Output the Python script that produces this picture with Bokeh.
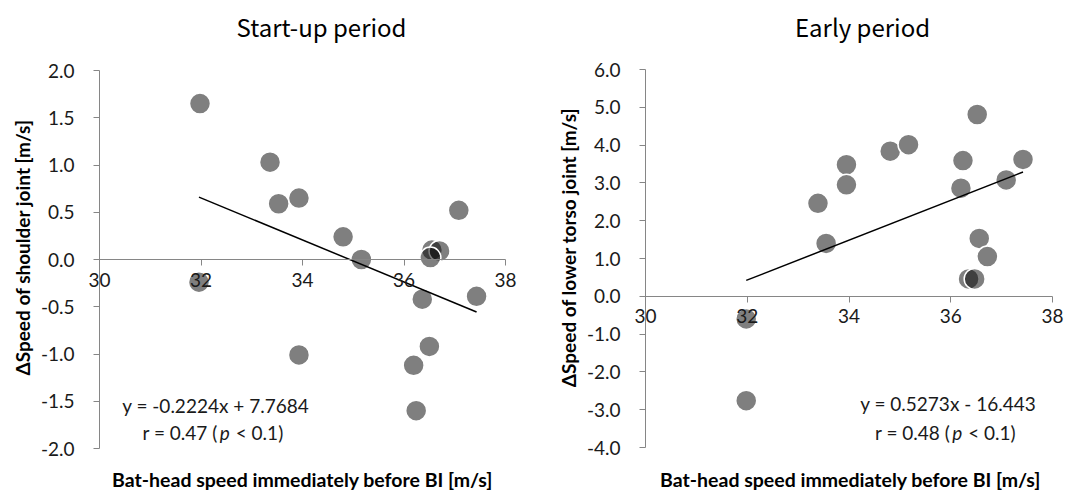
from bokeh.plotting import figure
from bokeh.layouts import row
from bokeh.models import Label, FixedTicker, NumeralTickFormatter, LinearAxis
from bokeh.embed import file_html
from bokeh.resources import INLINE

# Bat-head speed immediately before ball impact [m/s] vs. change of joint speed [m/s]
bat_speed_startup = [31.98, 33.36, 33.53, 33.93, 34.80, 35.16, 37.08, 36.55, 36.70,
                     36.52, 31.96, 36.36, 37.43, 36.50, 33.93, 36.19, 36.24]
d_shoulder_speed = [1.65, 1.03, 0.59, 0.65, 0.24, 0.00, 0.52, 0.10, 0.09,
                    0.02, -0.24, -0.42, -0.39, -0.92, -1.01, -1.12, -1.60]

bat_speed_early = [33.39, 33.55, 33.95, 33.95, 34.81, 35.17, 36.52, 36.24, 36.20,
                   37.42, 37.09, 36.56, 36.72, 36.35, 36.47, 31.98, 31.98]
d_lower_torso_speed = [2.46, 1.40, 3.48, 2.95, 3.84, 4.01, 4.81, 3.59, 2.86,
                       3.62, 3.08, 1.53, 1.05, 0.46, 0.46, -0.60, -2.76]

# Regression results printed on each panel
fit_startup = {"slope": -0.2224, "intercept": 7.7684, "r": 0.47}
fit_early = {"slope": 0.5273, "intercept": -16.443, "r": 0.48}

x_ticks = [30, 32, 34, 36, 38]
y_ticks_startup = [-2.0, -1.5, -1.0, -0.5, 0.0, 0.5, 1.0, 1.5, 2.0]
y_ticks_early = [-4.0, -3.0, -2.0, -1.0, 0.0, 1.0, 2.0, 3.0, 4.0, 5.0, 6.0]

TICK_FONT = "Lato"
TITLE_FONT = "Noto Sans CJK JP"
AXIS_GRAY = "#868686"
TEXT_COLOR = "#1a1a1a"
X_TITLE = "Bat-head speed immediately before BI [m/s]"
HEIGHT = 492


def equation_text(fit):
    icpt = fit["intercept"]
    sign = "+" if icpt >= 0 else "-"
    return f"y = {fit['slope']:g}x {sign} {abs(icpt):g}"


def panel(title, ylabel, xs, ys, fit, y_ticks, width, x_px, y_px, title_px, xtitle_px, eq_pos):
    # x_px: pixel columns of 30 and 38; y_px: pixel rows of the top and bottom y ticks
    ylo, yhi = y_ticks[0], y_ticks[-1]
    frame_l, frame_r = x_px[0] - 59, x_px[1] + 15
    frame_t, frame_b = 4, HEIGHT - 2

    ux = (38 - 30) / (x_px[1] - x_px[0])      # data units per pixel
    uy = (yhi - ylo) / (y_px[1] - y_px[0])

    def to_x(px):
        return 30 + (px - x_px[0]) * ux

    def to_y(py):
        return yhi - (py - y_px[0]) * uy

    p = figure(width=width, height=HEIGHT,
               x_range=(to_x(frame_l), to_x(frame_r)),
               y_range=(to_y(frame_b), to_y(frame_t)),
               output_backend="svg", toolbar_location=None,
               min_border_left=frame_l, min_border_right=width - frame_r,
               min_border_top=frame_t, min_border_bottom=HEIGHT - frame_b)
    p.background_fill_color = "white"
    p.border_fill_color = "white"
    p.outline_line_color = None
    p.xgrid.visible = False
    p.ygrid.visible = False

    # value axis standing at x = 30
    ya = p.yaxis[0]
    ya.fixed_location = 30
    ya.bounds = (ylo, yhi)
    ya.ticker = FixedTicker(ticks=y_ticks)
    ya.formatter = NumeralTickFormatter(format="0.0")
    ya.axis_line_color = AXIS_GRAY
    ya.major_tick_line_color = AXIS_GRAY
    ya.minor_tick_line_color = None
    ya.major_tick_out = 6
    ya.major_tick_in = 0
    ya.major_label_standoff = 19
    ya.major_label_text_font = TICK_FONT
    ya.major_label_text_font_size = "19px"
    ya.major_label_text_color = TEXT_COLOR

    # speed axis crossing the value axis at zero
    xa = p.xaxis[0]
    xa.fixed_location = 0
    xa.bounds = (30, 38)
    xa.ticker = FixedTicker(ticks=x_ticks)
    xa.axis_line_color = AXIS_GRAY
    xa.major_tick_line_color = AXIS_GRAY
    xa.minor_tick_line_color = None
    xa.major_tick_out = 6
    xa.major_tick_in = 0
    xa.major_label_standoff = 7
    xa.major_label_text_font = TICK_FONT
    xa.major_label_text_font_size = "19px"
    xa.major_label_text_color = TEXT_COLOR

    # value-axis title along the left edge
    yt = LinearAxis(ticker=FixedTicker(ticks=[]), axis_line_color=None,
                    major_tick_line_color=None, minor_tick_line_color=None,
                    axis_label=ylabel, axis_label_standoff=7)
    yt.axis_label_text_font = TICK_FONT
    yt.axis_label_text_font_style = "bold"
    yt.axis_label_text_font_size = "19px"
    yt.axis_label_text_color = "black"
    p.add_layout(yt, "left")

    # speed-axis title, centred under the 30-38 scale
    p.add_layout(Label(x=to_x(xtitle_px[0]), y=to_y(xtitle_px[1]), text=X_TITLE,
                       text_align="center", text_baseline="middle", text_font=TICK_FONT,
                       text_font_style="bold", text_font_size="19.5px", text_color="black"))

    # panel title
    p.add_layout(Label(x=to_x(title_px[0]), y=to_y(title_px[1]), text=title,
                       text_align="center", text_baseline="middle", text_font=TITLE_FONT,
                       text_font_size="24px", text_color="black"))

    # data points
    p.scatter(xs, ys, size=21, marker="circle", fill_color="black", fill_alpha=0.5,
              line_color="white", line_width=1.5)

    # regression line over the observed speed range
    x0, x1 = min(xs), max(xs)
    p.line([x0, x1], [fit["slope"] * x0 + fit["intercept"], fit["slope"] * x1 + fit["intercept"]],
           line_color="black", line_width=1.5)

    # regression equation and correlation
    ex, ey1, ey2 = eq_pos
    p.add_layout(Label(x=ex, y=ey1, text=equation_text(fit), text_align="center",
                       text_baseline="middle", text_font=TICK_FONT, text_font_size="19px",
                       text_color=TEXT_COLOR))
    common = dict(x=ex, y=ey2, text_baseline="middle", text_font=TICK_FONT,
                  text_font_size="19px", text_color=TEXT_COLOR)
    p.add_layout(Label(text=f"r = {fit['r']:.2f} (", text_align="right", x_offset=2, **common))
    p.add_layout(Label(text="p", text_align="left", x_offset=4, text_font_style="italic",
                       **common))
    p.add_layout(Label(text="< 0.1)", text_align="left", x_offset=20, **common))
    return p


left = panel("Start-up period", "ΔSpeed of shoulder joint [m/s]",
             bat_speed_startup, d_shoulder_speed, fit_startup, y_ticks_startup,
             545, (99, 505), (70, 448), (321, 26), (302, 479), (32.29, -1.545, -1.83))
right = panel("Early period", "ΔSpeed of lower torso joint [m/s]",
              bat_speed_early, d_lower_torso_speed, fit_early, y_ticks_early,
              546, (100, 507), (69, 447), (317, 26), (305, 479), (35.95, -2.84, -3.61))

layout = row(left, right)
open("out.html", "w").write(file_html(layout, INLINE))
